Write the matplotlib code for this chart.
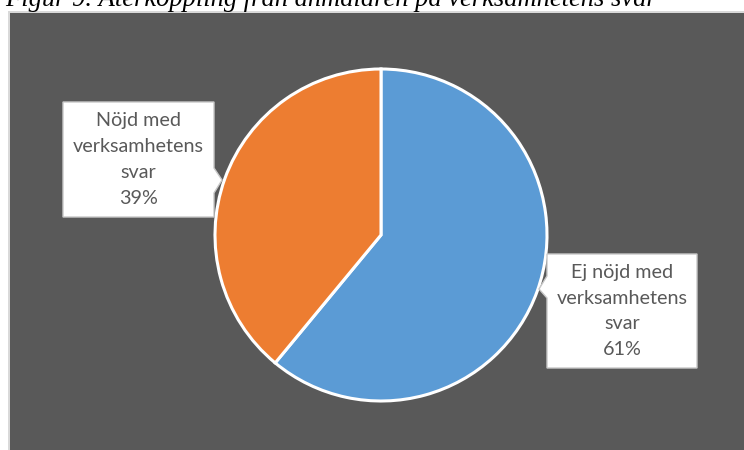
import matplotlib
matplotlib.use("Agg")
import matplotlib.pyplot as plt
from matplotlib.patches import Rectangle, Polygon

title = "Figur 9. Återkoppling från anmälaren på verksamhetens svar"
categories = ["Ej nöjd med\nverksamhetens\nsvar", "Nöjd med\nverksamhetens\nsvar"]
values = [61, 39]
colors = ["#5B9BD5", "#ED7D31"]

W, H = 744, 450
fig = plt.figure(figsize=(W / 100, H / 100), dpi=100)
fig.patch.set_facecolor("white")

# dark chart area with light border
fig.add_artist(Rectangle((8 / W, 0), 1, 1 - 11 / H, transform=fig.transFigure,
                         facecolor="#d9d9d9", edgecolor="none", zorder=-10))
fig.add_artist(Rectangle((10 / W, 0), 1, 1 - 13 / H, transform=fig.transFigure,
                         facecolor="#595959", edgecolor="none", zorder=-9))

ax = fig.add_axes([0, 0, 1, 1])
ax.set_facecolor("none")
ax.set_zorder(1)

wedges, _ = ax.pie(values, colors=colors, startangle=90, counterclock=False,
                   radius=1.0, center=(0, 0),
                   wedgeprops=dict(edgecolor="white", linewidth=2.2))

R = 166.0
cx, cy = 381, 235
ax.set_aspect("auto")
ax.set_xlim(-cx / R, (W - cx) / R)
ax.set_ylim(-(H - cy) / R, cy / R)
ax.axis("off")


def px(x, y):
    return ((x - cx) / R, (cy - y) / R)


def callout(box, tip, side, notch):
    x0, y0, x1, y1 = box
    n0, n1 = notch
    if side == "right":
        pts = [(x0, y0), (x1, y0), (x1, n0), tip, (x1, n1), (x1, y1), (x0, y1)]
    else:
        pts = [(x0, y0), (x1, y0), (x1, y1), (x0, y1), (x0, n1), tip, (x0, n0)]
    poly = Polygon([px(*p) for p in pts], closed=True, facecolor="white",
                   edgecolor="#c8c8c8", linewidth=1.0, zorder=5)
    ax.add_patch(poly)
    return ((x0 + x1) / 2, (y0 + y1) / 2)


labels = [f"{c}\n{v}%" for c, v in zip(categories, values)]

# right label (Ej nöjd)
c1 = callout((547, 254, 697, 368), (539, 289), "left", (276, 298))
# left label (Nöjd)
c2 = callout((63, 102, 214, 217), (222, 180), "right", (168, 193))

for lab, c in zip(labels, [c1, c2]):
    ax.text(*px(*c), lab, ha="center", va="center", fontsize=14.2,
            color="#595959", family="Lato", linespacing=1.62, zorder=6)

t = fig.text(5 / W, 1 - 6 / H, title, ha="left", va="baseline",
             fontsize=19, style="italic", family="Liberation Serif", color="black")
fig.canvas.draw()
w = t.get_window_extent().width
t.set_fontsize(19 * 653 / w)

fig.savefig("out.png", dpi=100)
